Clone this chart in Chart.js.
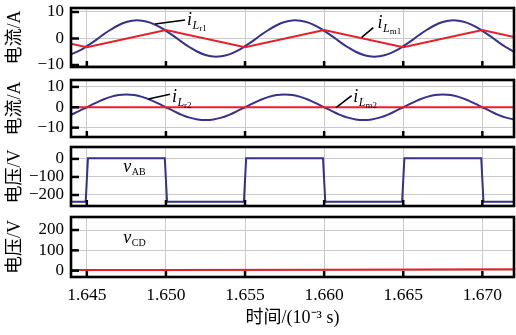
<!DOCTYPE html>
<html>
<head>
<meta charset="utf-8">
<script src="https://cdn.jsdelivr.net/npm/chart.js@4/dist/chart.umd.min.js"></script>
<style>
  html, body { margin: 0; padding: 0; background: #fff; }
  #wrap { position: relative; width: 516px; height: 335px; overflow: hidden; background: #fff; }
  #wrap canvas { position: absolute; left: 0; }
</style>
</head>
<body>
<div id="wrap">
  <canvas id="p1" width="516" height="67" style="top:4px;width:516px;height:67px"></canvas>
  <canvas id="p2" width="516" height="65" style="top:76px;width:516px;height:65px"></canvas>
  <canvas id="p3" width="516" height="67" style="top:143px;width:516px;height:67px"></canvas>
  <canvas id="p4" width="516" height="122" style="top:213px;width:516px;height:122px"></canvas>
</div>
<script>
// Sample instants (ms) for the resonant currents
const timeMs = [
  1.6440, 1.6445, 1.6450, 1.6455, 1.6460, 1.6465, 1.6470, 1.6475, 1.6480, 1.6485,
  1.6490, 1.6495, 1.6500, 1.6505, 1.6510, 1.6515, 1.6520, 1.6525, 1.6530, 1.6535,
  1.6540, 1.6545, 1.6550, 1.6555, 1.6560, 1.6565, 1.6570, 1.6575, 1.6580, 1.6585,
  1.6590, 1.6595, 1.6600, 1.6605, 1.6610, 1.6615, 1.6620, 1.6625, 1.6630, 1.6635,
  1.6640, 1.6645, 1.6650, 1.6655, 1.6660, 1.6665, 1.6670, 1.6675, 1.6680, 1.6685,
  1.6690, 1.6695, 1.6700, 1.6705, 1.6710, 1.6715, 1.6720, 1.6725
];

// Primary resonant current i_Lr1 (A)
const iLr1 = [
  -6.0, -4.7, -2.9, -0.9,  1.3,  3.3,  5.0,  6.2,  6.8,  6.7,
   6.0,  4.7,  2.9,  0.9, -1.3, -3.3, -5.0, -6.2, -6.8, -6.7,
  -6.0, -4.7, -2.9, -0.9,  1.3,  3.3,  5.0,  6.2,  6.8,  6.7,
   6.0,  4.7,  2.9,  0.9, -1.3, -3.3, -5.0, -6.2, -6.8, -6.7,
  -6.0, -4.7, -2.9, -0.9,  1.3,  3.3,  5.0,  6.2,  6.8,  6.7,
   6.0,  4.7,  2.9,  0.9, -1.3, -3.3, -5.0, -6.2
];

// Magnetising current i_Lm1 (A): triangle corners
const iLm1Time = [1.640, 1.645, 1.650, 1.655, 1.660, 1.665, 1.670, 1.675];
const iLm1     = [ 3.2,  -3.3,   3.2,  -3.3,   3.2,  -3.3,   3.2,  -3.3];

// Secondary-side resonant current i_Lr2 (A)
const iLr2 = [
  -3.7, -1.9,  0.0,  1.9,  3.7,  5.1,  6.0,  6.3,  6.0,  5.1,
   3.7,  1.9,  0.0, -1.9, -3.7, -5.1, -6.0, -6.3, -6.0, -5.1,
  -3.7, -1.9,  0.0,  1.9,  3.7,  5.1,  6.0,  6.3,  6.0,  5.1,
   3.7,  1.9,  0.0, -1.9, -3.7, -5.1, -6.0, -6.3, -6.0, -5.1,
  -3.7, -1.9,  0.0,  1.9,  3.7,  5.1,  6.0,  6.3,  6.0,  5.1,
   3.7,  1.9,  0.0, -1.9, -3.7, -5.1, -6.0, -6.3
];

// Magnetising current i_Lm2 (A)
const iLm2Time = [1.640, 1.675];
const iLm2     = [0, 0];

// Bridge voltage v_AB (V)
const vAbTime = [1.6400, 1.64493, 1.64507, 1.64993, 1.65007, 1.65493, 1.65507,
                 1.65993, 1.66007, 1.66493, 1.66507, 1.66993, 1.67007, 1.6750];
const vAb     = [-237, -237, 3, 3, -237, -237, 3, 3, -237, -237, 3, 3, -237, -237];

// Bridge voltage v_CD (V)
const vCdTime = [1.640, 1.650, 1.660, 1.675];
const vCd     = [3, 4, 5, 7];

// Axis ticks
const xTickValues = [1.645, 1.650, 1.655, 1.660, 1.665, 1.670];
const xTickLabels = ['1.645', '1.650', '1.655', '1.660', '1.665', '1.670'];
const currentTicks = [-10, 0, 10];
const currentTickLabels = ['\u221210', '0', '10'];
const vAbTicks = [-200, -100, 0];
const vAbTickLabels = ['\u2212200', '\u2212100', '0'];
const vCdTicks = [0, 100, 200];
const vCdTickLabels = ['0', '100', '200'];

const NAVY = '#36328c';
const RED = '#e61f2b';
const GRID = '#c9c9c9';
const SERIF = '"Liberation Serif", "Times New Roman", serif';
const TITLE_FONT = '"Liberation Serif", "Noto Sans CJK SC", serif';

function pts(xs, ys) { return xs.map((x, i) => ({ x: x, y: ys[i] })); }

function line(data, color, tension) {
  return { data: data, borderColor: color, borderWidth: 2, pointRadius: 0,
           tension: tension, fill: false };
}

// Frame, inward tick marks and in-plot annotations
function panelPlugins(notes) {
  return [{
    id: 'panelDecor',
    afterDatasetsDraw(chart) {
      const { ctx, chartArea: a, scales } = chart;
      ctx.save();
      ctx.strokeStyle = '#000';
      ctx.lineWidth = 2.5;
      scales.x.ticks.forEach(t => {
        const px = scales.x.getPixelForValue(t.value);
        ctx.beginPath(); ctx.moveTo(px, a.bottom); ctx.lineTo(px, a.bottom - 6); ctx.stroke();
      });
      scales.y.ticks.forEach(t => {
        const py = scales.y.getPixelForValue(t.value);
        ctx.beginPath(); ctx.moveTo(a.left, py); ctx.lineTo(a.left + 8, py); ctx.stroke();
      });
      ctx.lineWidth = 2.6;
      ctx.strokeRect(a.left, a.top, a.right - a.left, a.bottom - a.top);

      // leaders and labels
      ctx.fillStyle = '#000';
      ctx.textBaseline = 'alphabetic';
      ctx.textAlign = 'left';
      notes.forEach(n => {
        if (n.from) {
          ctx.lineWidth = 1.6;
          ctx.beginPath();
          ctx.moveTo(scales.x.getPixelForValue(n.from[0]), scales.y.getPixelForValue(n.from[1]));
          ctx.lineTo(scales.x.getPixelForValue(n.to[0]), scales.y.getPixelForValue(n.to[1]));
          ctx.stroke();
        } else {
          let x = scales.x.getPixelForValue(n.at[0]);
          const y = scales.y.getPixelForValue(n.at[1]);
          ctx.font = 'italic 18px ' + SERIF;
          ctx.fillText(n.main, x, y);
          x += ctx.measureText(n.main).width + 0.5;
          ctx.font = (n.subItalic ? 'italic ' : '') + n.subSize + 'px ' + SERIF;
          ctx.fillText(n.sub, x, y + n.subDy);
          x += ctx.measureText(n.sub).width;
          if (n.sub2) {
            ctx.font = '9px ' + SERIF;
            ctx.fillText(n.sub2, x, y + 6);
          }
        }
      });
      ctx.restore();
    }
  }];
}

function makePanel(id, opt) {
  const showX = !!opt.showX;
  return new Chart(document.getElementById(id), {
    type: 'line',
    data: { datasets: opt.datasets },
    options: {
      responsive: false,
      animation: false,
      devicePixelRatio: 1,
      events: [],
      layout: { padding: { top: 4, bottom: showX ? 0 : 4, left: 0, right: 2 } },
      plugins: { legend: { display: false }, tooltip: { enabled: false } },
      scales: {
        x: {
          type: 'linear', min: 1.644, max: 1.672,
          afterBuildTicks: s => { s.ticks = xTickValues.map(v => ({ value: v })); },
          afterFit: s => {
            s.height = showX ? 58 : 0;
            s.paddingLeft = 0; s.paddingRight = 0; s.paddingTop = 0; s.paddingBottom = 0;
          },
          ticks: {
            display: showX, autoSkip: false, maxRotation: 0, padding: 8,
            color: '#000', font: { family: SERIF, size: 17.5 },
            callback: v => xTickLabels[xTickValues.findIndex(t => Math.abs(t - v) < 1e-9)]
          },
          grid: { color: GRID, lineWidth: 1, drawTicks: false },
          border: { display: false },
          title: {
            display: showX, text: '时间/(10\u207B\u00B3 s)', color: '#000',
            font: { family: TITLE_FONT, size: 18 }, padding: { top: 0, bottom: 6 }
          }
        },
        y: {
          type: 'linear', min: opt.yMin, max: opt.yMax,
          afterBuildTicks: s => { s.ticks = opt.yTicks.map(v => ({ value: v })); },
          afterFit: s => {
            s.width = 71;
            s.paddingLeft = 0; s.paddingRight = 0; s.paddingTop = 0; s.paddingBottom = 0;
          },
          ticks: {
            autoSkip: false, padding: 7, color: '#000', font: { family: SERIF, size: 17 },
            callback: v => opt.yLabels[opt.yTicks.indexOf(v)]
          },
          grid: { color: GRID, lineWidth: 1, drawTicks: false },
          border: { display: false },
          title: {
            display: true, text: opt.yTitle, color: '#000',
            font: { family: TITLE_FONT, size: 18 }, padding: { top: 4, bottom: 0 }
          }
        }
      }
    },
    plugins: panelPlugins(opt.notes)
  });
}

makePanel('p1', {
  yMin: -10.75, yMax: 11.5, yTicks: currentTicks, yLabels: currentTickLabels, yTitle: '电流/A',
  datasets: [line(pts(iLm1Time, iLm1), RED, 0), line(pts(timeMs, iLr1), NAVY, 0.4)],
  notes: [
    { from: [1.64931, 5.47], to: [1.65121, 6.97] },
    { at: [1.65133, 5.1], main: 'i', sub: 'L', subItalic: true, subSize: 12, subDy: 4, sub2: 'r1' },
    { from: [1.66237, 0.45], to: [1.66311, 4.07] },
    { at: [1.66338, 3.85], main: 'i', sub: 'L', subItalic: true, subSize: 12, subDy: 4, sub2: 'm1' }
  ]
});

makePanel('p2', {
  yMin: -14.6, yMax: 13.4, yTicks: currentTicks, yLabels: currentTickLabels, yTitle: '电流/A',
  datasets: [line(pts(iLm2Time, iLm2), RED, 0), line(pts(timeMs, iLr2), NAVY, 0.4)],
  notes: [
    { from: [1.64889, 4.07], to: [1.65026, 6.38] },
    { at: [1.65038, 2.45], main: 'i', sub: 'L', subItalic: true, subSize: 12, subDy: 4, sub2: 'r2' },
    { from: [1.66075, -0.2], to: [1.66174, 5.69] },
    { at: [1.66184, 2.45], main: 'i', sub: 'L', subItalic: true, subSize: 12, subDy: 4, sub2: 'm2' }
  ]
});

makePanel('p3', {
  yMin: -261, yMax: 66, yTicks: vAbTicks, yLabels: vAbTickLabels, yTitle: '电压/V',
  datasets: [line(pts(vAbTime, vAb), NAVY, 0)],
  notes: [
    { at: [1.64731, -71], main: 'v', sub: 'AB', subItalic: false, subSize: 10, subDy: 3 }
  ]
});

makePanel('p4', {
  yMin: -31, yMax: 264, yTicks: vCdTicks, yLabels: vCdTickLabels, yTitle: '电压/V', showX: true,
  datasets: [line(pts(vCdTime, vCd), RED, 0)],
  notes: [
    { at: [1.64731, 134.7], main: 'v', sub: 'CD', subItalic: false, subSize: 10, subDy: 3 }
  ]
});
</script>
</body>
</html>
